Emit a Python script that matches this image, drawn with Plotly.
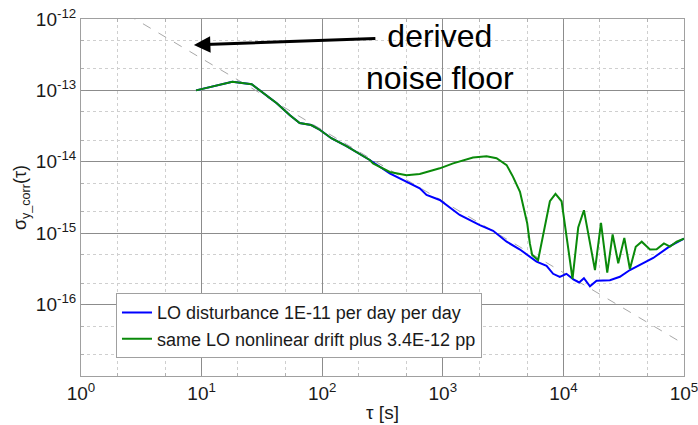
import plotly.graph_objects as go

# ---- data ----
blue_tau = [9, 18, 26, 33, 42, 54, 65, 81, 96, 119, 159, 248, 363, 644, 733, 944,
            1381, 2028, 2614, 3384, 4365, 5990, 7250, 8220, 9330, 10600, 12100, 13500,
            14800, 16600, 18840, 24300, 29400, 35600, 55600, 76500, 100000]
blue_sig = [1.0e-13, 1.32e-13, 1.22e-13, 9.1e-14, 6.6e-14, 4.5e-14, 3.5e-14, 3.27e-14,
            2.79e-14, 2.14e-14, 1.66e-14, 1.06e-14, 6.9e-15, 4.26e-15, 3.43e-15, 2.92e-15,
            1.8e-15, 1.3e-15, 1.08e-15, 7.6e-16, 5.9e-16, 4.0e-16, 3.5e-16, 2.7e-16,
            2.45e-16, 2.7e-16, 2.26e-16, 2.04e-16, 2.34e-16, 1.8e-16, 2.16e-16, 2.2e-16,
            2.45e-16, 3.05e-16, 4.5e-16, 6.6e-16, 8.4e-16]

green_tau = [9, 18, 26, 33, 42, 54, 65, 81, 96, 119, 159, 248, 264, 363, 500, 644, 944,
             1218, 1780, 2305, 2790, 3384, 3815, 4365, 5010, 5270, 5510, 6170, 7730, 8600,
             9660, 11900, 13270, 14800, 18270, 20500, 23100, 25600, 28500, 32000, 35600,
             39800, 44600, 52200, 59300, 68200, 76500, 87000, 100000]
green_sig = [1.0e-13, 1.32e-13, 1.22e-13, 9.1e-14, 6.6e-14, 4.5e-14, 3.5e-14, 3.27e-14,
             2.79e-14, 2.14e-14, 1.66e-14, 1.06e-14, 9.5e-15, 7.2e-15, 6.5e-15, 6.75e-15,
             8.1e-15, 9.5e-15, 1.15e-14, 1.2e-14, 1.12e-14, 9.0e-15, 6.2e-15, 3.8e-15,
             1.38e-15, 7.2e-16, 4.95e-16, 4.2e-16, 2.8e-15, 3.55e-15, 2.8e-15, 2.3e-16,
             1.2e-15, 2.1e-15, 3.05e-16, 1.4e-15, 2.8e-16, 9.6e-16, 3.8e-16, 8.6e-16,
             3.15e-16, 6.45e-16, 7.6e-16, 5.9e-16, 5.95e-16, 7.2e-16, 6.5e-16, 7.6e-16, 8.4e-16]

floor_tau = [1, 100000]
floor_sig = [2.8e-12, 2.8e-17]

x_ticks = [1, 10, 100, 1000, 10000, 100000]
x_ticktext = ["10<sup>0</sup>", "10<sup>1</sup>", "10<sup>2</sup>", "10<sup>3</sup>",
              "10<sup>4</sup>", "10<sup>5</sup>"]
y_ticks = [1e-16, 1e-15, 1e-14, 1e-13, 1e-12]
y_ticktext = ["10<sup>-16</sup>", "10<sup>-15</sup>", "10<sup>-14</sup>",
              "10<sup>-13</sup>", "10<sup>-12</sup>"]

legend_names = ["LO disturbance 1E-11 per day per day",
                "same LO nonlinear drift plus 3.4E-12 pp"]

FONT = "Liberation Sans, Arial, sans-serif"

fig = go.Figure()
fig.add_trace(go.Scatter(x=floor_tau, y=floor_sig, mode="lines", showlegend=False,
                         line=dict(color="#a8a8a8", width=1, dash="dash"), hoverinfo="skip"))
fig.add_trace(go.Scatter(x=blue_tau, y=blue_sig, mode="lines", name=legend_names[0],
                         line=dict(color="#0000ff", width=2)))
fig.add_trace(go.Scatter(x=green_tau, y=green_sig, mode="lines", name=legend_names[1],
                         line=dict(color="#0a8a0a", width=2)))

axis_common = dict(
    type="log", automargin=False, ticklabeloverflow="allow",
    showline=True, linecolor="#a0a0a0", linewidth=1, mirror="allticks",
    ticks="inside", ticklen=5, tickcolor="#909090",
    showgrid=True, gridcolor="#8c8c8c", gridwidth=1,
    minor=dict(showgrid=True, gridcolor="#cfcfcf", griddash="dot", gridwidth=1,
               ticks="inside", ticklen=3, tickcolor="#b0b0b0"),
    zeroline=False, tickfont=dict(family=FONT, size=19, color="#1a1a1a"),
)

fig.update_xaxes(**axis_common, range=[0, 5], tickvals=x_ticks, ticktext=x_ticktext,
                 title=dict(text="τ [s]", font=dict(family=FONT, size=19, color="#1a1a1a"),
                            standoff=2))
fig.update_yaxes(**axis_common, range=[-17, -12], tickvals=y_ticks, ticktext=y_ticktext,
                 title=dict(text="σ<sub>y_corr</sub>(τ)",
                            font=dict(family=FONT, size=18, color="#1a1a1a"), standoff=4))

# arrow pointing to the noise floor
fig.add_annotation(x=0.936, y=-12.364, xref="x", yref="y", text="", showarrow=True,
                   ax=183, ay=-6.5, arrowhead=2, arrowsize=1.1, arrowwidth=3,
                   arrowcolor="#000000", standoff=0)
fig.add_annotation(x=0.595, y=0.893, xref="paper", yref="paper",
                   text="derived<br>noise floor", showarrow=False,
                   xanchor="center", yanchor="middle",
                   font=dict(family=FONT, size=32, color="#000000"))

fig.update_layout(
    width=698, height=425,
    margin=dict(l=81, r=14, t=19, b=49),
    paper_bgcolor="white", plot_bgcolor="white",
    font=dict(family=FONT, color="#1a1a1a"),
    legend=dict(x=0.058, y=0.232, xanchor="left", yanchor="top",
                bgcolor="white", bordercolor="#a0a0a0", borderwidth=1,
                font=dict(family=FONT, size=18, color="#1a1a1a"),
                tracegroupgap=0, itemwidth=30),
)

fig.write_html("out.html")
